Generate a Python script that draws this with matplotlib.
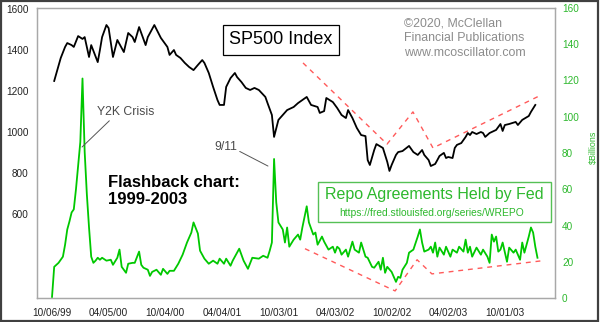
import numpy as np
import pandas as pd
import matplotlib
matplotlib.use("Agg")
import matplotlib.pyplot as plt
from matplotlib.patches import Rectangle

plt.rcParams['font.family'] = ['Liberation Sans', 'DejaVu Sans']

# ---------------- data ----------------
start_date = "1999-10-06"   # week 0 (weekly Wednesday data)

sp_week = [1, 4, 6, 7, 9, 10, 12, 14, 15, 17, 18, 21, 22, 23, 25, 26, 28, 30, 33, 35,
           37, 38, 40, 43, 44, 47, 50, 53, 54, 56, 57, 59, 61, 63, 65, 67, 69, 70, 72, 74,
           76, 77, 79, 80, 82, 84, 85, 87, 89, 91, 93, 95, 98, 99, 101, 102, 104, 106, 108, 111,
           113, 117, 119, 122, 123, 125, 126, 129, 131, 133, 135, 136, 138, 140, 142, 144, 145, 146, 148, 149,
           152, 153, 154, 155, 156, 158, 159, 161, 164, 166, 168, 170, 171, 173, 174, 176, 177, 178, 180, 181,
           182, 184, 185, 186, 188, 190, 191, 192, 193, 195, 197, 198, 199, 201, 204, 206, 207, 208, 210, 213,
           214, 216, 219, 220, 222]
sp_value = [1249, 1361, 1415, 1434, 1424, 1415, 1468, 1454, 1463, 1366, 1424, 1341, 1400, 1463, 1522, 1507, 1366, 1449, 1390, 1483,
            1463, 1439, 1512, 1424, 1463, 1522, 1459, 1415, 1376, 1400, 1376, 1361, 1337, 1317, 1302, 1327, 1351, 1337, 1288, 1220,
            1156, 1132, 1132, 1220, 1263, 1288, 1268, 1244, 1215, 1205, 1215, 1205, 1171, 1141, 1083, 976, 1059, 1083, 1107, 1122,
            1141, 1171, 1132, 1122, 1093, 1102, 1166, 1146, 1117, 1083, 1068, 1107, 1068, 1020, 985, 980, 863, 839, 912, 941,
            922, 888, 854, 810, 839, 888, 902, 907, 932, 902, 888, 912, 888, 863, 834, 844, 863, 883, 898, 873,
            878, 873, 922, 937, 946, 976, 995, 985, 1000, 990, 1000, 995, 976, 995, 1010, 1039, 1005, 1034, 1039, 1049,
            1034, 1059, 1078, 1098, 1132]

repo_week = [0, 1, 3, 5, 6, 7, 8, 9, 10, 11, 12, 13, 14, 15, 16, 17, 18, 19, 20, 21,
             22, 23, 25, 27, 28, 30, 31, 32, 34, 35, 37, 38, 40, 41, 42, 44, 45, 46, 48, 50,
             51, 53, 54, 56, 58, 60, 62, 64, 65, 67, 68, 70, 72, 74, 76, 77, 79, 80, 82, 83,
             86, 88, 90, 92, 95, 97, 99, 100, 101, 102, 103, 104, 106, 107, 108, 109, 111, 113, 114, 115,
             117, 118, 120, 121, 122, 124, 125, 127, 129, 130, 131, 132, 133, 135, 136, 138, 139, 141, 142, 144,
             145, 147, 148, 150, 151, 152, 153, 154, 156, 158, 159, 160, 161, 163, 164, 166, 168, 169, 170, 171,
             173, 174, 175, 176, 177, 178, 180, 181, 183, 184, 186, 187, 189, 190, 191, 192, 193, 195, 197, 198,
             200, 201, 202, 203, 204, 205, 206, 207, 209, 210, 212, 213, 215, 216, 217, 219, 220, 221, 222, 223]
repo_value = [0.6, 17.2, 19.4, 22.8, 29.4, 37.8, 42.2, 47.2, 48.9, 60.0, 72.8, 86.1, 121.1, 80.6, 57.2, 38.9, 22.8, 19.4, 20.6, 22.2,
              21.1, 22.2, 20.6, 21.1, 18.3, 22.2, 26.7, 17.2, 13.9, 18.9, 19.4, 19.4, 25.6, 18.3, 16.7, 15.6, 12.2, 14.4, 15.6, 12.8,
              16.1, 13.3, 15.0, 15.0, 18.9, 23.9, 30.6, 36.1, 41.7, 35.6, 26.1, 21.7, 18.9, 20.6, 18.9, 21.7, 18.9, 21.7, 17.8, 20.6,
              27.2, 20.6, 16.1, 22.2, 21.7, 23.3, 22.2, 26.1, 30.6, 76.7, 52.8, 41.7, 37.8, 30.6, 38.9, 28.3, 32.2, 35.0, 32.2, 38.9,
              50.6, 41.7, 35.0, 36.1, 29.4, 33.9, 31.1, 26.7, 28.3, 25.0, 28.3, 27.2, 23.9, 26.7, 22.8, 31.1, 26.7, 25.0, 30.6, 22.8,
              22.2, 17.2, 16.7, 20.0, 15.6, 22.2, 13.9, 17.2, 14.4, 8.9, 11.7, 11.1, 15.6, 19.4, 25.0, 26.7, 33.9, 37.8, 30.6, 25.6,
              26.7, 28.3, 25.0, 30.6, 22.8, 27.8, 23.9, 28.3, 22.8, 26.7, 25.0, 28.3, 25.6, 32.2, 25.0, 28.3, 22.8, 27.8, 23.9, 26.7,
              22.8, 19.4, 35.0, 31.1, 33.9, 25.6, 26.7, 30.6, 20.0, 27.8, 25.0, 26.7, 21.1, 30.6, 25.0, 33.9, 38.9, 36.1, 28.3, 22.2]

# hand-drawn trend lines (annotations)
sp_trend_week = [115.3, 153.9, 165.8, 175.0, 224.6]
sp_trend_value = [1337, 941, 1098, 922, 1180]
repo_trend_week = [116.2, 157.6, 167.7, 174.5, 225.5]
repo_trend_value = [27.2, 3.9, 21.1, 13.3, 20.6]

tick_week = [0, 26, 52, 78, 104, 130, 156, 182, 208]
tick_labels = ["10/06/99", "04/05/00", "10/04/00", "04/04/01", "10/03/01",
               "04/03/02", "10/02/02", "04/02/03", "10/01/03"]
left_ticks = [600, 800, 1000, 1200, 1400, 1600]
right_ticks = [0, 20, 40, 60, 80, 100, 120, 140, 160]

# ---------------- helpers ----------------
t0 = pd.Timestamp(start_date)
def to_dates(weeks):
    return t0 + pd.to_timedelta(np.asarray(weeks, dtype=float) * 7, unit="D")

GREEN_LINE = "#00c800"
GREEN_TXT = "#2db82d"
RED = "#ff5a5a"
GRAY_SPINE = "#a8a8a8"

fig = plt.figure(figsize=(6.0, 3.22), dpi=100)
fig.patch.set_facecolor("white")
ax = fig.add_axes([37/600, 1 - 298/322, (555-37)/600, (298-8)/322])
ax2 = ax.twinx()

# lines
ax2.plot(to_dates(repo_week), repo_value, color=GREEN_LINE, lw=1.3, zorder=3)
ax2.plot(to_dates(repo_trend_week), repo_trend_value, color=RED, lw=1.0,
         linestyle=(0, (3.5, 3.5)), zorder=2)
ax.plot(to_dates(sp_week), sp_value, color="black", lw=1.3, zorder=3)
ax.plot(to_dates(sp_trend_week), sp_trend_value, color=RED, lw=1.0,
        linestyle=(0, (3.5, 3.5)), zorder=2)
ax.set_zorder(ax2.get_zorder() + 1)
ax.patch.set_visible(False)

# axes limits
ax.set_xlim(to_dates([-6.9])[0], to_dates([231.05])[0])
ax.set_ylim(190, 1605)
ax2.set_ylim(0, 160)

ax.set_xticks(to_dates(tick_week))
ax.set_xticklabels(tick_labels)
ax.set_yticks(left_ticks)
ax.set_yticklabels([str(v) for v in left_ticks])
ax2.set_yticks(right_ticks)
ax2.set_yticklabels([str(v) for v in right_ticks])

ax.tick_params(axis="x", length=0, pad=7, labelsize=7.2, colors="#222222")
ax.tick_params(axis="y", length=0, pad=6.2, labelsize=7.2, colors="#222222")
ax2.tick_params(axis="y", length=0, pad=5, labelsize=7.2, colors=GREEN_TXT)

for a in (ax, ax2):
    for s in a.spines.values():
        s.set_color(GRAY_SPINE)
        s.set_linewidth(0.9)

ax2.text(1.075, 0.52, "$Billions", transform=ax2.transAxes, rotation=90,
         ha="center", va="center", fontsize=6.4, color=GREEN_TXT)

# ---------------- text annotations ----------------
H = 322
fig.text(281/600, 1 - 40/H, "SP500 Index", ha="center", va="center", fontsize=13,
         color="black",
         bbox=dict(boxstyle="square,pad=0.35", fc="white", ec="black", lw=0.9))

fig.text(404/600, 1 - 18/H, "\u00a92020, McClellan\nFinancial Publications\nwww.mcoscillator.com",
         ha="left", va="top", fontsize=8.9, color="#8c8c8c", linespacing=1.27)

fig.text(108/600, 1 - 191/H, "Flashback chart:\n1999-2003", ha="left", va="center",
         fontsize=12, fontweight="bold", color="black", linespacing=1.1)

fig.text(434.5/600, 1 - 194/H, "Repo Agreements Held by Fed", ha="center", va="center",
         fontsize=11.5, color=GREEN_TXT)
fig.text(432/600, 1 - 213/H, "https://fred.stlouisfed.org/series/WREPO", ha="center",
         va="center", fontsize=7.4, color=GREEN_TXT)
fig.patches.append(Rectangle((318/600, 1 - 222/H), (551-318)/600, (222-182)/H,
                             transform=fig.transFigure, fill=False, ec="#55c055", lw=1.0))

ax2.annotate("Y2K Crisis", xy=(to_dates([13.8])[0], 83.3),
             xytext=(126, H - 112), textcoords="figure pixels",
             ha="center", va="center", fontsize=8.8, color="#4a4a4a",
             arrowprops=dict(arrowstyle="-", color="#555555", lw=0.7,
                             relpos=(0.26, 0.0), shrinkA=0, shrinkB=0))
ax2.annotate("9/11", xy=(to_dates([99.2])[0], 72.8),
             xytext=(225.5, H - 147), textcoords="figure pixels",
             ha="center", va="center", fontsize=8.8, color="#4a4a4a",
             arrowprops=dict(arrowstyle="-", color="#555555", lw=0.7,
                             relpos=(1.0, 0.25), shrinkA=0, shrinkB=0))

# outer frame
fig.patches.append(Rectangle((0.001, 0.002), 0.996, 0.995, transform=fig.transFigure,
                             fill=False, ec="#404040", lw=1.6))

fig.savefig("out.png", dpi=100, facecolor="white")
